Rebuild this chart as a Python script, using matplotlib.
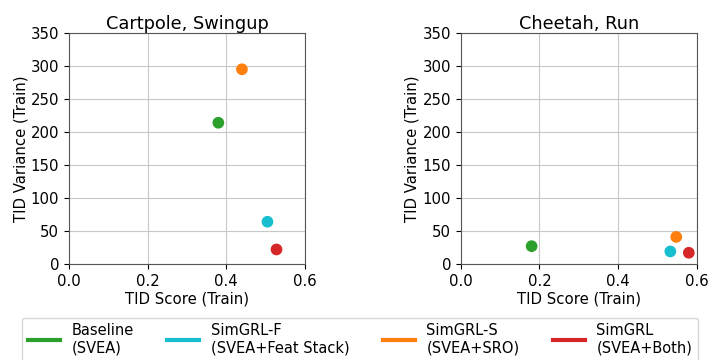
import matplotlib.pyplot as plt
from matplotlib.lines import Line2D

# datos
methods = ["Baseline\n(SVEA)", "SimGRL-F\n(SVEA+Feat Stack)", "SimGRL-S\n(SVEA+SRO)", "SimGRL\n(SVEA+Both)"]
colors = ["#2ca02c", "#17becf", "#ff7f0e", "#d62728"]

tasks = ["Cartpole, Swingup", "Cheetah, Run"]
cartpole_score = [0.38, 0.505, 0.44, 0.528]
cartpole_var = [214, 64, 295, 22]
cheetah_score = [0.18, 0.533, 0.548, 0.58]
cheetah_var = [27, 19, 41, 17]

fig = plt.figure(figsize=(7.08, 3.6), dpi=100)
ax1 = fig.add_axes([0.0975, 0.2667, 0.333, 0.6417])
ax2 = fig.add_axes([0.651, 0.2667, 0.333, 0.6417])

for ax, title, xs, ys in [(ax1, tasks[0], cartpole_score, cartpole_var),
                          (ax2, tasks[1], cheetah_score, cheetah_var)]:
    ax.grid(True, color="#c8c8c8", lw=0.8)
    ax.set_axisbelow(True)
    ax.scatter(xs, ys, c=colors, s=55, zorder=3)
    ax.set_xlim(0, 0.6)
    ax.set_ylim(0, 350)
    ax.set_xticks([0.0, 0.2, 0.4, 0.6])
    ax.set_yticks(range(0, 351, 50))
    ax.set_title(title, fontsize=12.8, pad=3)
    ax.set_xlabel("TID Score (Train)", fontsize=10.7, labelpad=2)
    ax.set_ylabel("TID Variance (Train)", fontsize=10.7, labelpad=2)
    ax.tick_params(labelsize=10.7)
    for sp in ax.spines.values():
        sp.set_color("#555555")

handles = [Line2D([0], [0], color=c, lw=3) for c in colors]
fig.legend(handles, methods, loc="upper left", ncol=4, mode="expand",
           bbox_to_anchor=(0.031, -0.1, 0.955, 0.218), fontsize=10.5,
           handlelength=2.2, borderaxespad=0, labelspacing=0.1)

fig.savefig("out.png", dpi=100)
